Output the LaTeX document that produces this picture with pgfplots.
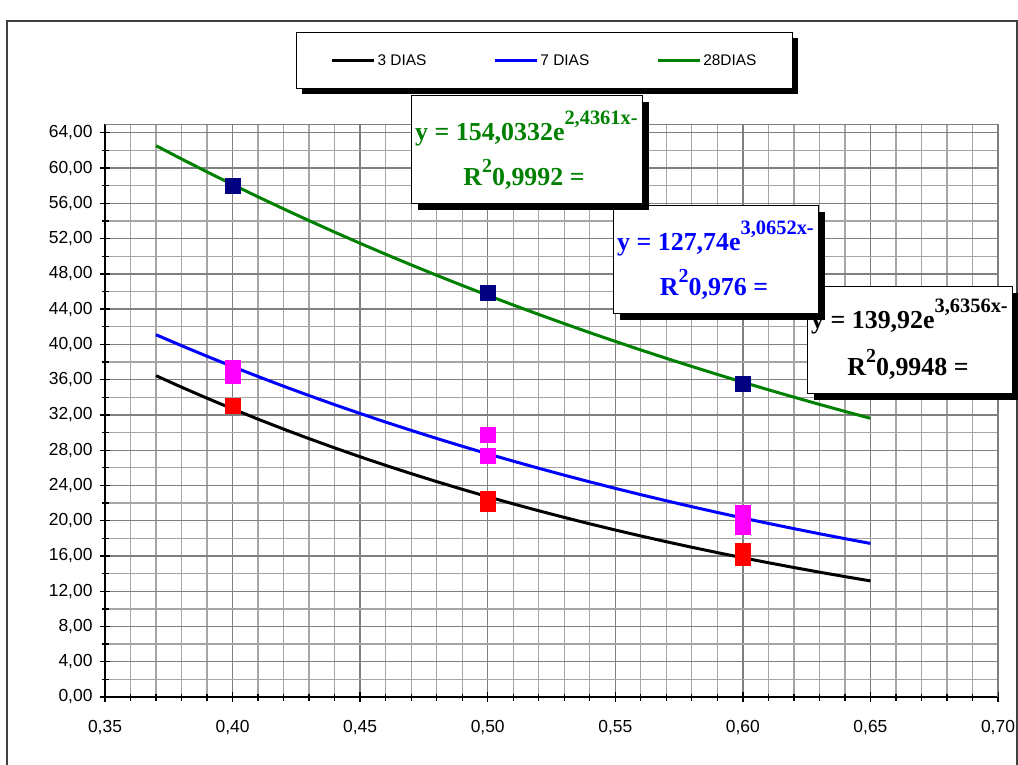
\documentclass[border=0pt]{standalone}
\usepackage{pgfplots}
\pgfplotsset{compat=1.18}
\usepackage{fontspec}
\setmainfont{Liberation Sans}
\newfontfamily\eqfont{Liberation Serif}
\usetikzlibrary{shadows}
\definecolor{xlgreen}{RGB}{0,128,0}
\definecolor{xlblue}{RGB}{0,0,255}
\definecolor{xlnavy}{RGB}{0,0,128}
\definecolor{xlmag}{RGB}{255,0,255}
\definecolor{xlred}{RGB}{255,0,0}
\definecolor{gridmaj}{RGB}{128,128,128}
\definecolor{gridmin}{RGB}{165,165,165}
\tikzset{xlshadow/.style={drop shadow={shadow xshift=6bp, shadow yshift=-6bp, fill=black, opacity=1}}}
\newcommand{\eqsup}[1]{\raisebox{16bp}{\fontsize{20.5}{22}\selectfont #1}}

\pgfplotstableread{
x y
0.37 36.449
0.38 35.148
0.39 33.893
0.40 32.683
0.41 31.516
0.42 30.391
0.43 29.306
0.44 28.259
0.45 27.250
0.46 26.277
0.47 25.339
0.48 24.435
0.49 23.562
0.50 22.721
0.51 21.910
0.52 21.127
0.53 20.373
0.54 19.646
0.55 18.944
0.56 18.268
0.57 17.616
0.58 16.987
0.59 16.380
0.60 15.796
0.61 15.232
0.62 14.688
0.63 14.163
0.64 13.658
0.65 13.170
}\treslin

\pgfplotstableread{
x y
0.37 41.095
0.38 39.854
0.39 38.651
0.40 37.484
0.41 36.353
0.42 35.255
0.43 34.191
0.44 33.159
0.45 32.158
0.46 31.187
0.47 30.246
0.48 29.333
0.49 28.447
0.50 27.588
0.51 26.756
0.52 25.948
0.53 25.165
0.54 24.405
0.55 23.668
0.56 22.954
0.57 22.261
0.58 21.589
0.59 20.937
0.60 20.305
0.61 19.692
0.62 19.098
0.63 18.521
0.64 17.962
0.65 17.420
}\sietelin

\pgfplotstableread{
x y
0.37 62.540
0.38 61.035
0.39 59.566
0.40 58.133
0.41 56.734
0.42 55.368
0.43 54.036
0.44 52.735
0.45 51.466
0.46 50.227
0.47 49.019
0.48 47.839
0.49 46.688
0.50 45.564
0.51 44.467
0.52 43.397
0.53 42.353
0.54 41.333
0.55 40.339
0.56 39.368
0.57 38.420
0.58 37.496
0.59 36.593
0.60 35.713
0.61 34.853
0.62 34.014
0.63 33.196
0.64 32.397
0.65 31.617
}\veintiochlin

\pgfplotstableread{
x y
0.40 33.1
0.50 22.5
0.50 21.9
0.60 16.6
0.60 15.8
}\trespts

\pgfplotstableread{
x y
0.40 37.3
0.40 36.5
0.50 29.7
0.50 27.4
0.60 20.9
0.60 19.3
}\sietepts

\pgfplotstableread{
x y
0.40 58.0
0.50 45.9
0.60 35.5
}\veintiochpts

\begin{document}
\begin{tikzpicture}
\useasboundingbox (0,0) rectangle (1018bp,-765bp);
\fill[white] (0,0) rectangle (1018bp,-765bp);
\draw[line width=2bp, black!75] (7bp,-775bp) -- (7bp,-21bp) -- (1017bp,-21bp) -- (1017bp,-775bp);
% legend shadow
\fill[black] (302bp,-38bp) rectangle (798bp,-94bp);
\begin{axis}[
  at={(105bp,-697bp)}, anchor=south west,
  scale only axis, width=893bp, height=573bp,
  xmin=0.35, xmax=0.70, ymin=0, ymax=65,
  xtick={0.35,0.40,0.45,0.50,0.55,0.60,0.65,0.70},
  ytick={0,4,8,12,16,20,24,28,32,36,40,44,48,52,56,60,64},
  minor x tick num=4, minor y tick num=1,
  axis lines*=left,
  axis line style={black, line width=1.5bp},
  tick style={black, line width=1.3bp},
  tick align=center,
  major tick length=10bp, minor tick length=7bp,
  grid=both,
  major grid style={gridmaj, line width=1.3bp},
  minor grid style={gridmin, line width=1.3bp},
  tick label style={font=\fontsize{17.5}{20}\selectfont},
  xticklabel style={yshift=-15bp},
  yticklabel style={xshift=-4bp},
  /pgf/number format/.cd, fixed, fixed zerofill, precision=2, use comma, assume math mode=true,
  /pgfplots/.cd,
  legend style={at={(0.2139,1.1606)}, anchor=north west, draw=black, line width=1bp, fill=white,
    font=\fontsize{15.5}{18}\selectfont, inner xsep=34bp, inner ysep=20bp,
    /tikz/every even column/.append style={column sep=65bp}},
  legend columns=3,
  legend image code/.code={\draw[#1,line width=3bp] (0bp,0bp) -- (42bp,0bp);},
]
\draw[gridmaj, line width=1.3bp] (rel axis cs:0,1) -- (rel axis cs:1,1) -- (rel axis cs:1,0);
\addplot[only marks, mark=square*, mark size=7.5bp, xlred, forget plot] table {\trespts};
\addplot[only marks, mark=square*, mark size=7.5bp, xlmag, forget plot] table {\sietepts};
\addplot[only marks, mark=square*, mark size=7.5bp, xlnavy, forget plot] table {\veintiochpts};
\addplot[black, line width=3bp, no marks] table {\treslin};
\addlegendentry{3 DIAS}
\addplot[xlblue, line width=3bp, no marks] table {\sietelin};
\addlegendentry{7 DIAS}
\addplot[xlgreen, line width=3bp, no marks] table {\veintiochlin};
\addlegendentry{28DIAS}
\end{axis}
% equation boxes (black, blue, green order)
\node[xlshadow, draw=black, line width=1bp, fill=white, anchor=north west, minimum width=205bp, minimum height=107bp, inner sep=0pt] at (807bp,-286bp) {};
\node[anchor=base west, inner sep=0pt, text=black, font=\eqfont\bfseries\fontsize{26}{30}\selectfont] at (811bp,-328bp) {y = 139,92e\eqsup{3,6356x-}};
\node[anchor=base, inner sep=0pt, text=black, font=\eqfont\bfseries\fontsize{26}{30}\selectfont] at (908bp,-375bp) {R\raisebox{13bp}{\fontsize{20}{22}\selectfont 2}0,9948 =};

\node[xlshadow, draw=black, line width=1bp, fill=white, anchor=north west, minimum width=205bp, minimum height=108bp, inner sep=0pt] at (613bp,-205bp) {};
\node[anchor=base west, inner sep=0pt, text=xlblue, font=\eqfont\bfseries\fontsize{26}{30}\selectfont] at (617bp,-250bp) {y = 127,74e\eqsup{3,0652x-}};
\node[anchor=base, inner sep=0pt, text=xlblue, font=\eqfont\bfseries\fontsize{26}{30}\selectfont] at (714bp,-295bp) {R\raisebox{13bp}{\fontsize{20}{22}\selectfont 2}0,976 =};

\node[xlshadow, draw=black, line width=1bp, fill=white, anchor=north west, minimum width=231bp, minimum height=108bp, inner sep=0pt] at (411bp,-95bp) {};
\node[anchor=base west, inner sep=0pt, text=xlgreen, font=\eqfont\bfseries\fontsize{26}{30}\selectfont] at (415bp,-140bp) {y = 154,0332e\eqsup{2,4361x-}};
\node[anchor=base, inner sep=0pt, text=xlgreen, font=\eqfont\bfseries\fontsize{26}{30}\selectfont] at (524bp,-185bp) {R\raisebox{13bp}{\fontsize{20}{22}\selectfont 2}0,9992 =};
\end{tikzpicture}
\end{document}
